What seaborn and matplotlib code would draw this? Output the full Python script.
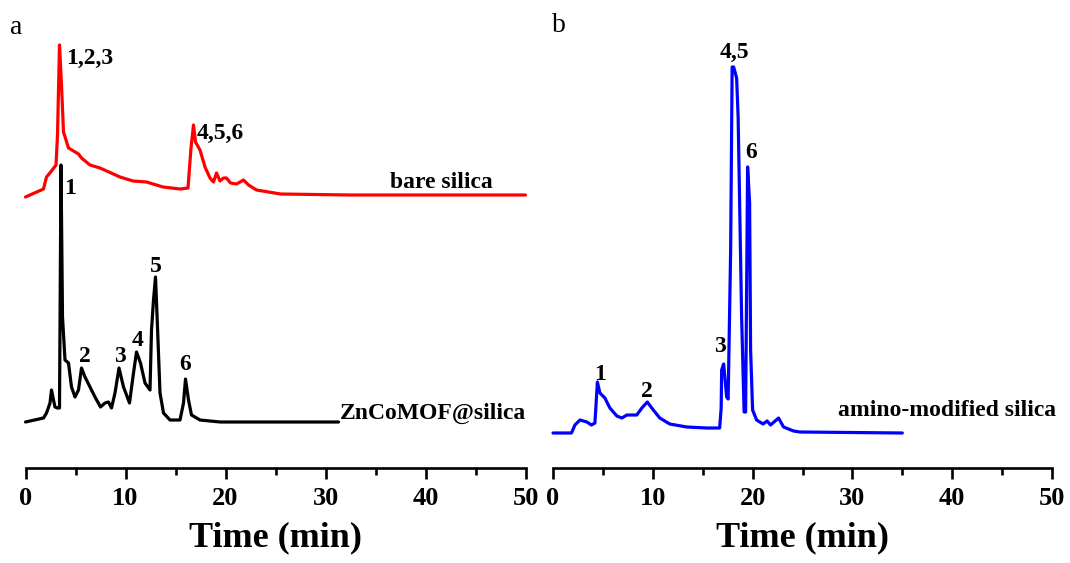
import matplotlib
matplotlib.use("Agg")
import matplotlib.pyplot as plt
from matplotlib.ticker import MultipleLocator
import seaborn as sns
import pandas as pd

# ---- chromatogram traces (time in min, detector signal above each baseline) ----
bare_time = [0.0, 1.8, 2.1, 2.6, 3.05, 3.2, 3.4, 3.6, 3.8, 4.3, 5.3, 5.6, 6.45, 7.45,
             9.45, 10.75, 12.1, 13.75, 15.45, 16.25, 16.55, 16.8, 17.0, 17.45, 17.95,
             18.45, 18.8, 19.1, 19.45, 19.8, 20.1, 20.5, 21.1, 21.8, 22.3, 23.1, 25.5,
             32.5, 50.0]
bare_signal = [-2, 6, 18, 24, 30, 60, 150, 110, 63, 47, 41, 37, 30, 27, 18, 14, 13, 8,
               6, 7, 47, 70, 53, 45, 28, 17, 13, 22, 14, 17, 17, 12, 11, 15, 10, 5, 1,
               0, 0]

mof_time = [0.0, 1.8, 2.1, 2.45, 2.6, 2.8, 2.95, 3.2, 3.4, 3.55, 3.7, 3.95, 4.3, 4.6,
            4.95, 5.3, 5.6, 5.95, 6.45, 6.95, 7.5, 7.95, 8.3, 8.6, 8.95, 9.35, 9.8,
            10.4, 10.8, 11.1, 11.5, 11.95, 12.45, 12.6, 12.8, 13.0, 13.2, 13.45, 13.8,
            14.45, 15.45, 15.8, 16.0, 16.3, 16.6, 17.45, 19.45, 31.3]
mof_signal = [0, 4, 9, 19, 32, 22, 15, 14, 14, 257, 105, 62, 59, 35, 25, 32, 54, 45,
              35, 25, 15, 19, 20, 14, 29, 54, 35, 19, 49, 70, 59, 39, 32, 92, 122, 145,
              95, 29, 9, 2, 2, 19, 43, 22, 7, 2, 0, 0]

amino_time = [0.0, 1.85, 2.2, 2.7, 3.4, 3.85, 4.2, 4.45, 4.7, 5.2, 5.7, 6.4, 6.9, 7.4,
              8.4, 8.9, 9.45, 10.05, 10.7, 11.7, 13.4, 15.4, 16.7, 16.85, 16.9, 17.1,
              17.4, 17.55, 17.8, 17.95, 18.1, 18.4, 18.55, 18.9, 19.15, 19.3, 19.5,
              19.7, 19.8, 20.0, 20.4, 21.05, 21.45, 21.8, 22.6, 23.1, 24.1, 24.75, 35.0]
amino_signal = [0, 0, 8, 13, 11, 8, 10, 51, 40, 35, 25, 17, 15, 18, 18, 25, 31, 23, 15,
                9, 6, 5, 5, 25, 63, 69, 36, 34, 183, 366, 366, 355, 316, 116, 21, 21,
                266, 230, 83, 23, 13, 9, 12, 8, 15, 6, 2, 1, 0]

x_ticks = [0, 10, 20, 30, 40, 50]

sns.set_style("white")
plt.rcParams["font.family"] = ["Liberation Serif", "DejaVu Serif"]
plt.rcParams["text.color"] = "black"
plt.rcParams["axes.labelcolor"] = "black"
plt.rcParams["xtick.color"] = "black"
plt.rcParams["xtick.labelcolor"] = "black"

W, H = 1070, 563
fig = plt.figure(figsize=(W / 100, H / 100), dpi=100)

AX_BOTTOM = 467.5   # y pixel of the time axis
AX_TOP = 10.0
YMAX = AX_BOTTOM - AX_TOP


def style_axes(ax):
    ax.set_xlim(0, 50)
    ax.set_ylim(0, YMAX)
    for side in ("left", "right", "top"):
        ax.spines[side].set_visible(False)
    ax.spines["bottom"].set_linewidth(1.9)
    ax.spines["bottom"].set_color("black")
    ax.set_yticks([])
    ax.set_xticks(x_ticks)
    ax.xaxis.set_minor_locator(MultipleLocator(5))
    ax.tick_params(axis="x", which="major", bottom=True, direction="out", length=8,
                   width=1.9, color="black", pad=6, labelsize=19, labelcolor="black")
    ax.tick_params(axis="x", which="minor", bottom=True, direction="out", length=5,
                   width=1.9, color="black")
    for lab in ax.get_xticklabels():
        lab.set_fontweight("bold")
    ax.set_xlabel("Time (min)", fontsize=26, fontweight="bold", labelpad=8,
                  color="black")
    ax.set_ylabel("")
    ax.patch.set_alpha(0)


def make_axes(x0, x1):
    return fig.add_axes([x0 / W, (H - AX_BOTTOM) / H, (x1 - x0) / W, YMAX / H])


def trace(ax, t, s, offset, color):
    df = pd.DataFrame({"t": t, "s": [v + offset for v in s]})
    sns.lineplot(data=df, x="t", y="s", ax=ax, color=color, lw=2.3,
                 estimator=None, sort=False, clip_on=False)


lab_kw = dict(fontsize=17, fontweight="bold", color="black")

# ---- panel a ----
ax_a = make_axes(25.5, 525.5)
trace(ax_a, bare_time, bare_signal, 272.5, "#ff0000")
trace(ax_a, mof_time, mof_signal, 45.5, "#000000")
style_axes(ax_a)

ax_a.text(4.1, 409.5, "1,2,3", ha="left", va="center", **lab_kw)
ax_a.text(17.1, 334.5, "4,5,6", ha="left", va="center", **lab_kw)
ax_a.text(41.55, 284.5, "bare silica", ha="center", va="center", **lab_kw)
ax_a.text(4.45, 278.5, "1", ha="center", va="center", **lab_kw)
ax_a.text(5.92, 111, "2", ha="center", va="center", **lab_kw)
ax_a.text(9.4, 111, "3", ha="center", va="center", **lab_kw)
ax_a.text(11.2, 127.5, "4", ha="center", va="center", **lab_kw)
ax_a.text(13.05, 200.5, "5", ha="center", va="center", **lab_kw)
ax_a.text(16.0, 102.5, "6", ha="center", va="center", **lab_kw)
ax_a.text(40.75, 54.5, "ZnCoMOF@silica", ha="center", va="center", **lab_kw)

# ---- panel b ----
ax_b = make_axes(553, 1052)
trace(ax_b, amino_time, amino_signal, 34.5, "#0000ff")
style_axes(ax_b)

ax_b.text(4.7, 93.5, "1", ha="center", va="center", **lab_kw)
ax_b.text(9.4, 76, "2", ha="center", va="center", **lab_kw)
ax_b.text(16.75, 121, "3", ha="center", va="center", **lab_kw)
ax_b.text(18.2, 415, "4,5", ha="center", va="center", **lab_kw)
ax_b.text(19.9, 314.5, "6", ha="center", va="center", **lab_kw)
ax_b.text(39.5, 57.5, "amino-modified silica", ha="center", va="center", **lab_kw)

# panel letters
fig.text(16 / W, 1 - 27 / H, "a", fontsize=20, ha="center", va="center",
         color="black")
fig.text(559 / W, 1 - 26 / H, "b", fontsize=20, ha="center", va="center",
         color="black")

fig.savefig("out.png", dpi=100, facecolor="white")
